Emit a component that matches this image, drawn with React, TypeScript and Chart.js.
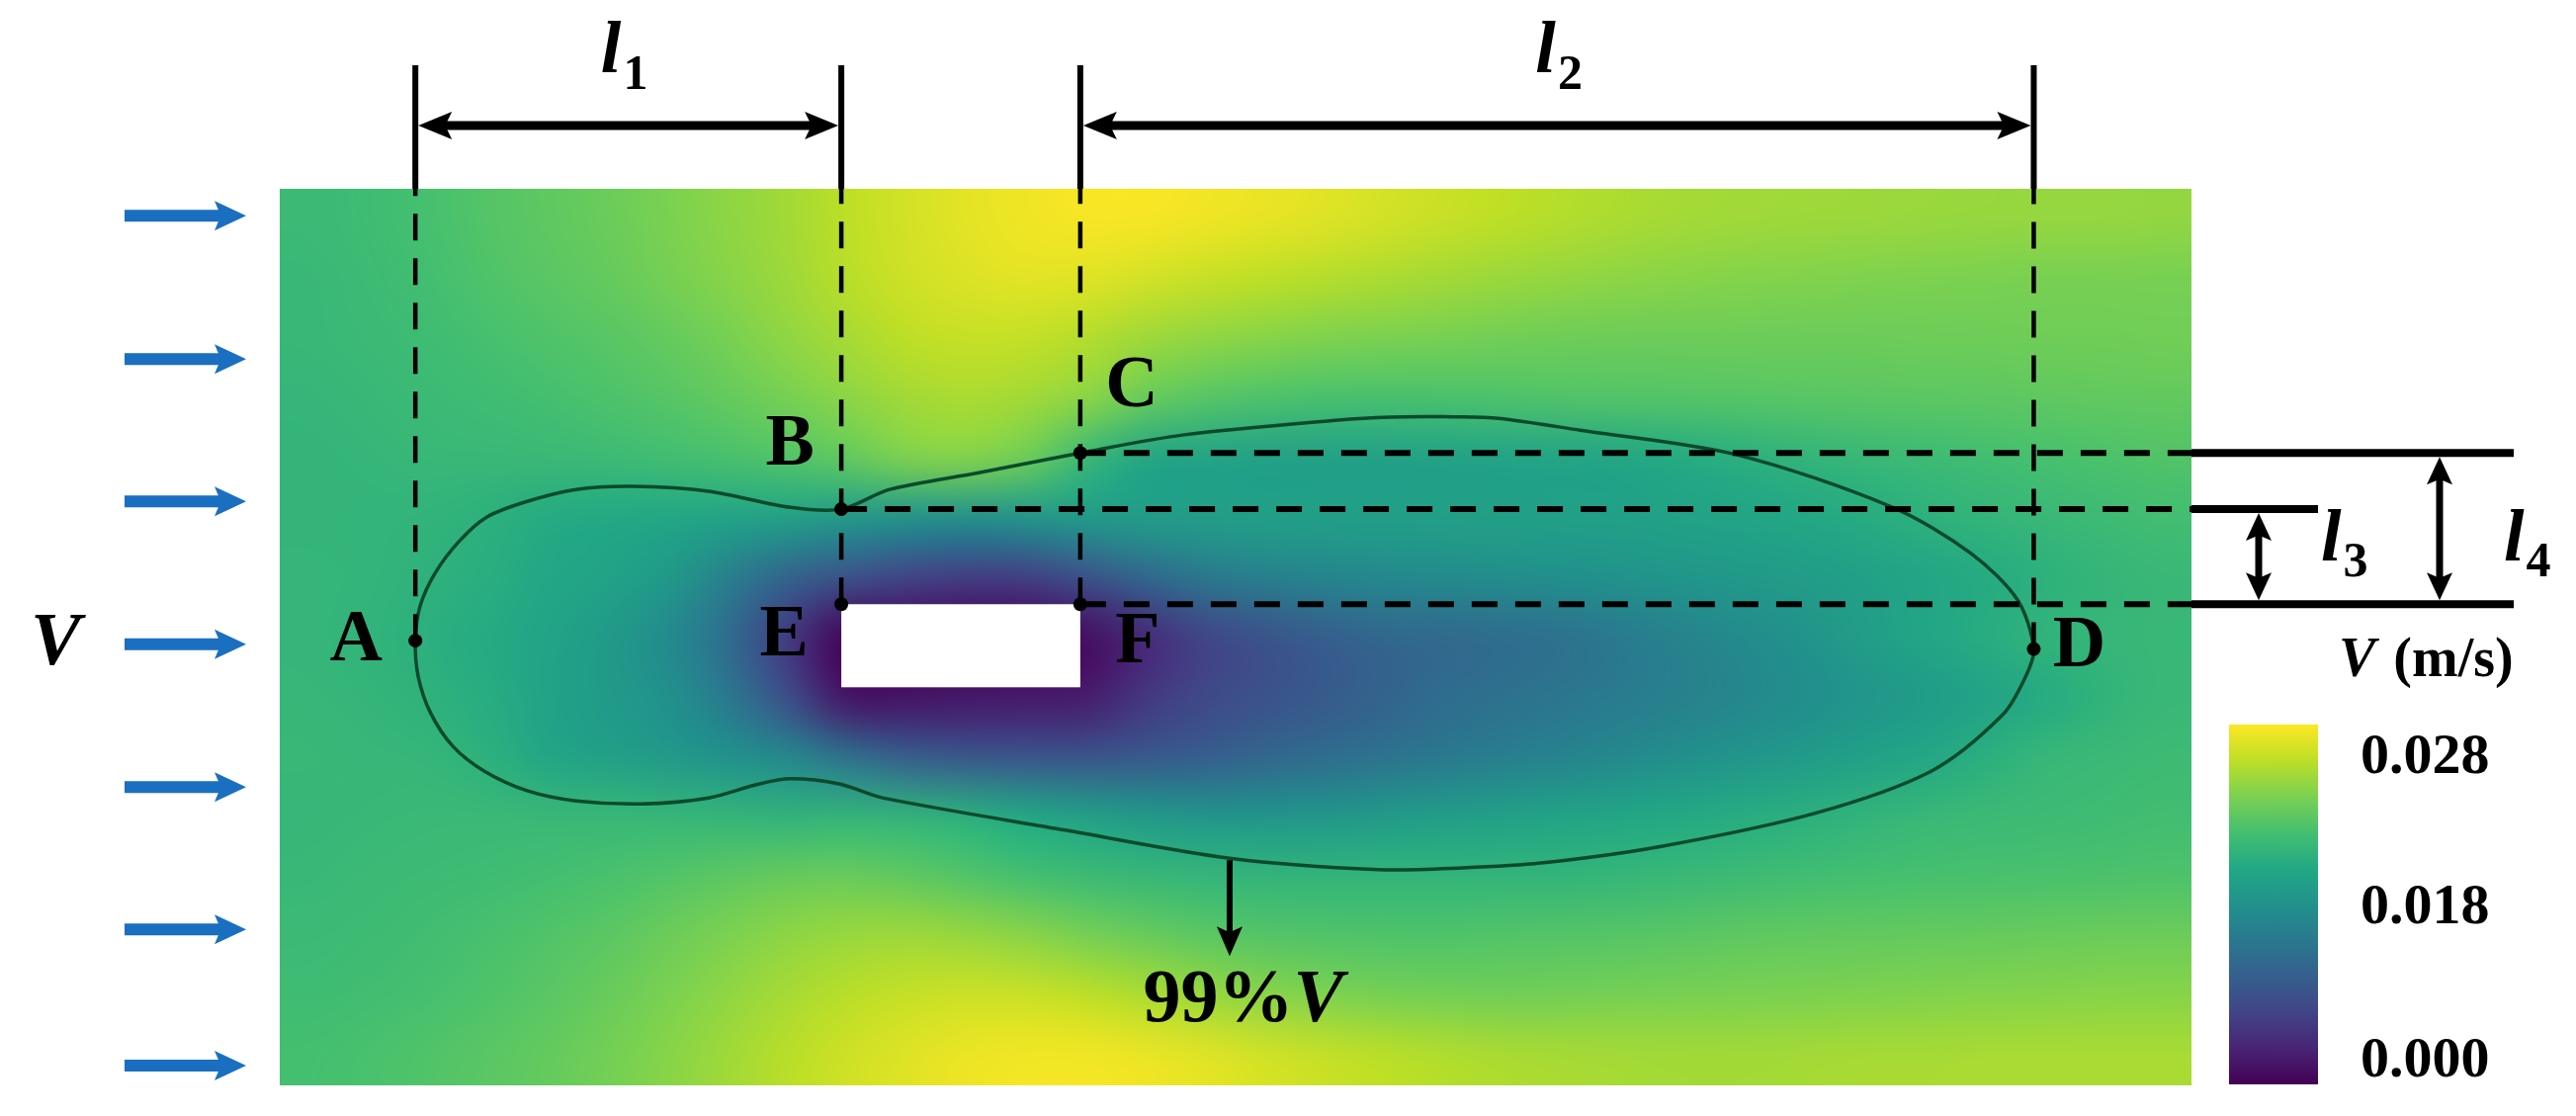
import React, { useEffect, useRef } from 'react';
import { Chart, registerables } from 'chart.js';

Chart.register(...registerables);

// ---------------- DATA ----------------
// Velocity field, mm/s, one row per grid row (top row first), 32 columns each
const vRow14 = [20.2, 20.6, 21.1, 21.9, 22.5, 23.1, 24.0, 24.9, 25.8, 27.0, 28.0, 28.8, 29.4, 29.7, 29.7, 29.4, 29.0, 28.6, 28.0, 27.5, 27.0, 26.6, 26.2, 25.9, 25.7, 25.6, 25.5, 25.4, 25.3, 25.2, 25.2, 25.1];
const vRow13 = [20.0, 20.4, 20.9, 21.6, 22.2, 22.8, 23.7, 24.6, 25.6, 26.8, 27.8, 28.4, 28.8, 28.6, 28.0, 27.4, 27.0, 26.6, 26.2, 25.8, 25.4, 25.1, 24.8, 24.6, 24.4, 24.3, 24.2, 24.1, 24.0, 23.9, 23.9, 23.8];
const vRow12 = [19.9, 20.2, 20.6, 21.1, 21.6, 22.1, 22.8, 23.8, 25.0, 26.0, 27.0, 27.4, 27.3, 26.6, 25.6, 25.0, 24.6, 24.2, 24.0, 23.8, 23.5, 23.3, 23.2, 23.2, 23.2, 23.2, 23.2, 23.3, 23.3, 23.4, 23.4, 23.5];
const vRow11 = [19.7, 19.9, 20.3, 20.6, 21.0, 21.5, 22.0, 22.8, 23.8, 24.8, 25.8, 26.2, 25.8, 24.8, 23.0, 22.0, 21.5, 21.2, 21.2, 21.3, 21.5, 21.7, 21.8, 21.9, 22.0, 22.1, 22.2, 22.3, 22.4, 22.5, 22.6, 22.7];
const vRow10 = [19.6, 19.7, 19.9, 20.0, 20.1, 20.3, 20.7, 21.2, 21.8, 22.6, 24.2, 24.4, 23.3, 20.0, 17.5, 17.2, 17.0, 17.0, 17.0, 17.1, 17.2, 17.4, 17.6, 18.2, 18.8, 19.4, 19.9, 20.3, 20.7, 21.1, 21.4, 21.7];
const vRow09 = [19.6, 19.5, 19.4, 19.0, 18.3, 18.0, 17.7, 17.4, 17.0, 16.0, 15.3, 15.0, 15.5, 16.3, 16.6, 16.7, 16.8, 16.8, 16.8, 16.8, 16.8, 16.9, 17.0, 17.2, 17.5, 17.9, 18.4, 19.0, 19.5, 20.0, 20.4, 20.8];
const vRow08 = [19.7, 19.5, 19.2, 18.7, 17.8, 17.2, 16.0, 12.8, 9.5, 7.5, 6.0, 5.3, 5.5, 7.5, 10.0, 12.0, 13.0, 13.6, 14.0, 14.3, 14.6, 14.9, 15.2, 15.6, 16.0, 16.5, 17.0, 17.6, 18.3, 19.0, 19.6, 20.0];
const vRow07 = [19.7, 19.4, 18.9, 18.2, 17.4, 16.2, 14.2, 10.5, 5.0, 0.0, 0.0, 0.0, 0.0, 1.0, 3.5, 6.0, 7.5, 8.8, 9.8, 10.2, 10.6, 11.2, 12.2, 13.3, 14.3, 15.3, 16.6, 17.6, 18.5, 19.4, 19.8, 19.9];
const vRow06 = [19.8, 19.6, 19.2, 18.5, 17.2, 16.2, 15.0, 12.0, 7.0, 1.5, 1.5, 1.8, 2.0, 2.2, 4.8, 6.5, 7.6, 8.4, 9.5, 10.5, 11.2, 11.8, 12.4, 13.1, 13.8, 14.6, 15.5, 16.3, 17.2, 18.3, 19.3, 20.0];
const vRow05 = [19.9, 19.8, 19.7, 19.0, 17.6, 16.8, 16.0, 15.0, 13.8, 11.0, 8.8, 8.0, 7.8, 7.7, 8.2, 8.8, 9.8, 10.5, 11.3, 12.0, 12.7, 13.3, 14.0, 14.8, 15.5, 16.2, 17.0, 17.8, 18.8, 19.8, 20.1, 20.4];
const vRow04 = [19.8, 19.9, 20.1, 20.1, 20.0, 19.9, 19.8, 19.6, 19.3, 19.5, 19.4, 18.9, 18.0, 17.0, 16.0, 15.5, 15.5, 15.7, 16.2, 16.6, 17.0, 17.4, 17.8, 18.1, 18.5, 18.9, 19.4, 19.9, 20.2, 20.4, 20.6, 20.8];
const vRow03 = [20.0, 20.2, 20.4, 20.6, 20.9, 21.3, 21.8, 22.4, 22.9, 23.0, 22.5, 21.8, 21.0, 20.4, 19.9, 19.7, 19.5, 19.5, 19.5, 19.5, 19.5, 19.6, 19.8, 20.1, 20.4, 20.7, 21.0, 21.1, 21.2, 21.3, 21.4, 21.5];
const vRow02 = [20.3, 20.5, 20.8, 21.2, 21.7, 22.3, 23.2, 24.1, 24.9, 25.4, 25.6, 25.3, 24.7, 23.8, 23.0, 22.3, 21.9, 21.7, 21.6, 21.6, 21.8, 21.9, 22.0, 22.2, 22.5, 22.6, 22.7, 22.8, 22.9, 23.0, 23.1, 23.2];
const vRow01 = [20.6, 20.8, 21.1, 21.6, 22.2, 23.0, 24.0, 25.0, 26.0, 26.8, 27.4, 27.7, 27.6, 27.1, 26.3, 25.4, 24.7, 24.2, 23.8, 23.6, 23.5, 23.6, 23.8, 23.9, 24.0, 24.1, 24.2, 24.3, 24.4, 24.5, 24.6, 24.6];
const vRow00 = [21.0, 21.3, 21.7, 22.2, 22.8, 23.6, 24.6, 25.7, 26.8, 27.8, 28.6, 29.2, 29.5, 29.5, 29.2, 28.7, 28.0, 27.4, 26.9, 26.5, 26.2, 26.0, 25.9, 25.8, 25.8, 25.9, 26.0, 26.0, 26.1, 26.1, 26.1, 26.1];

const fieldRows = [vRow14, vRow13, vRow12, vRow11, vRow10, vRow09, vRow08, vRow07, vRow06, vRow05, vRow04, vRow03, vRow02, vRow01, vRow00];

// colour scale (m/s) and colour-bar tick labels
const colorMin = 0.0;
const colorMax = 0.03;
const colorbarTicks = ['0.028', '0.018', '0.000'];
const colorbarTitle = ['V', ' (m/s)'];

// marked points
const pointLabels = ['A', 'B', 'C', 'D', 'E', 'F'];
const pointX = [2.27, 9.4, 13.4, 29.36, 9.4, 13.4];
const pointY = [7.44, 9.64, 10.58, 7.3, 8.05, 8.05];

// 99%V contour (closed loop)
const contourX = [19.5, 20.4, 21.77, 24.39, 27.0, 28.31, 29.09, 29.36, 29.22, 28.84, 27.65, 25.69, 23.08, 21.11, 19.8, 18.38, 15.9, 13.15, 10.09, 9.38, 8.55, 8.01, 7.18, 6.07, 4.96, 4.14, 3.42, 2.9, 2.53, 2.32, 2.27, 2.35, 2.6, 3.01, 3.47, 4.14, 4.96, 5.91, 7.18, 8.55, 9.4, 10.21, 11.7, 13.4, 15.11, 17.72, 18.6, 19.5];
const contourY = [11.19, 11.16, 10.96, 10.55, 9.67, 8.9, 8.12, 7.3, 6.83, 6.2, 5.26, 4.55, 3.99, 3.72, 3.64, 3.61, 3.8, 4.27, 4.81, 5.04, 5.13, 5.04, 4.81, 4.71, 4.76, 4.93, 5.26, 5.67, 6.22, 6.83, 7.44, 8.02, 8.57, 9.11, 9.51, 9.77, 9.97, 10.02, 9.94, 9.67, 9.64, 9.97, 10.25, 10.58, 10.88, 11.13, 11.18, 11.19];
const contourArrowIndex = 16; // contour point where the "99%V" arrow starts
const contourLabel = ['99%', 'V'];

// obstacle
const obstacleX = [9.4, 13.4];
const obstacleY = [6.66, 8.05];

// inflow arrows
const inflowY = [14.55, 12.15, 9.77, 7.38, 4.99, 2.61, 0.33];
const inflowLabel = 'V';

// dimensions
const dimensionSubs = ['1', '2', '3', '4'];

// ---------------- HELPERS ----------------
const NX = fieldRows[0].length;
const NY = fieldRows.length;

const VIRIDIS = ['#440154', '#482475', '#414487', '#355f8d', '#2a788e', '#21918c', '#22a884', '#44bf70', '#7ad151', '#bddf26', '#fde725'].map((h) => [
  parseInt(h.slice(1, 3), 16),
  parseInt(h.slice(3, 5), 16),
  parseInt(h.slice(5, 7), 16),
]);

function viridis(t: number) {
  const tt = Math.max(0, Math.min(1, t));
  const s = tt * (VIRIDIS.length - 1);
  const i = Math.min(VIRIDIS.length - 2, Math.floor(s));
  const f = s - i;
  const a = VIRIDIS[i];
  const b = VIRIDIS[i + 1];
  return [a[0] + (b[0] - a[0]) * f, a[1] + (b[1] - a[1]) * f, a[2] + (b[2] - a[2]) * f];
}

const SERIF = '"Liberation Serif", "Times New Roman", serif';

function line(ctx: any, x1: number, y1: number, x2: number, y2: number, w: number) {
  ctx.lineWidth = w;
  ctx.beginPath();
  ctx.moveTo(x1, y1);
  ctx.lineTo(x2, y2);
  ctx.stroke();
}

function head(ctx: any, tx: number, ty: number, dx: number, dy: number, len: number, half: number) {
  const bx = tx - dx * len;
  const by = ty - dy * len;
  const nx = -dy;
  const ny = dx;
  ctx.beginPath();
  ctx.moveTo(tx, ty);
  ctx.lineTo(bx + nx * half, by + ny * half);
  ctx.lineTo(tx - dx * len * 0.8, ty - dy * len * 0.8);
  ctx.lineTo(bx - nx * half, by - ny * half);
  ctx.closePath();
  ctx.fill();
}

function arrow(ctx: any, x1: number, y1: number, x2: number, y2: number, w: number, len: number, half: number, both: boolean) {
  const L = Math.hypot(x2 - x1, y2 - y1);
  const dx = (x2 - x1) / L;
  const dy = (y2 - y1) / L;
  const sx = both ? x1 + dx * len * 0.7 : x1;
  const sy = both ? y1 + dy * len * 0.7 : y1;
  line(ctx, sx, sy, x2 - dx * len * 0.7, y2 - dy * len * 0.7, w);
  head(ctx, x2, y2, dx, dy, len, half);
  if (both) head(ctx, x1, y1, -dx, -dy, len, half);
}

function runs(ctx: any, parts: any[], x: number, y: number, align: string) {
  const widths = parts.map((p) => {
    ctx.font = p.font;
    return ctx.measureText(p.text).width + (p.dx || 0);
  });
  const total = widths.reduce((a, b) => a + b, 0);
  let cx = align === 'center' ? x - total / 2 : x;
  ctx.textAlign = 'left';
  ctx.textBaseline = 'alphabetic';
  parts.forEach((p, i) => {
    ctx.font = p.font;
    ctx.fillText(p.text, cx, y + (p.dy || 0));
    cx += widths[i];
  });
}

// ---------------- PLUGINS ----------------
const heatmapPlugin = {
  id: 'heatmap',
  beforeDatasetsDraw(chart: any) {
    const { ctx, scales } = chart;
    const xs = scales.x;
    const ys = scales.y;
    const W = NX + 2;
    const H = NY + 2;
    const off = document.createElement('canvas');
    off.width = W;
    off.height = H;
    const octx = off.getContext('2d') as CanvasRenderingContext2D;
    const img = octx.createImageData(W, H);
    for (let r = 0; r < H; r++) {
      const rr = Math.min(NY - 1, Math.max(0, r - 1));
      for (let c = 0; c < W; c++) {
        const cc = Math.min(NX - 1, Math.max(0, c - 1));
        const v = fieldRows[rr][cc] / 1000;
        const col = viridis((v - colorMin) / (colorMax - colorMin));
        const k = (r * W + c) * 4;
        img.data[k] = col[0];
        img.data[k + 1] = col[1];
        img.data[k + 2] = col[2];
        img.data[k + 3] = 255;
      }
    }
    octx.putImageData(img, 0, 0);
    const left = xs.getPixelForValue(0);
    const right = xs.getPixelForValue(NX);
    const top = ys.getPixelForValue(NY);
    const bottom = ys.getPixelForValue(0);
    ctx.save();
    ctx.beginPath();
    ctx.rect(left, top, right - left, bottom - top);
    ctx.clip();
    ctx.imageSmoothingEnabled = true;
    ctx.imageSmoothingQuality = 'high';
    ctx.drawImage(off, 1, 1, NX, NY, left, top, right - left, bottom - top);
    // obstacle
    const ox1 = xs.getPixelForValue(obstacleX[0]);
    const ox2 = xs.getPixelForValue(obstacleX[1]);
    const oy1 = ys.getPixelForValue(obstacleY[1]);
    const oy2 = ys.getPixelForValue(obstacleY[0]);
    ctx.fillStyle = '#ffffff';
    ctx.fillRect(ox1, oy1, ox2 - ox1, oy2 - oy1);
    ctx.restore();
  },
};

const annotationPlugin = {
  id: 'annotations',
  afterDraw(chart: any) {
    const { ctx, chartArea: ca, scales } = chart;
    const px = (v: number) => scales.x.getPixelForValue(v);
    const py = (v: number) => scales.y.getPixelForValue(v);
    const A = 0, B = 1, C = 2, D = 3, F = 5;
    ctx.save();
    ctx.strokeStyle = '#000';
    ctx.fillStyle = '#000';
    ctx.lineCap = 'butt';

    // vertical solid extension lines above the field
    const dimTop = ca.top - 125;
    [A, B, C, D].forEach((i) => line(ctx, px(pointX[i]), ca.top, px(pointX[i]), dimTop, 6));

    // horizontal dimension arrows l1, l2
    const arrowY = ca.top - 64;
    arrow(ctx, px(pointX[A]) + 3, arrowY, px(pointX[B]) - 3, arrowY, 9, 34, 14, true);
    arrow(ctx, px(pointX[C]) + 3, arrowY, px(pointX[D]) - 3, arrowY, 9, 34, 14, true);

    const lFont = `italic bold 74px ${SERIF}`;
    const sFont = `bold 50px ${SERIF}`;
    const lBase = ca.top - 118;
    runs(ctx, [{ text: 'l', font: lFont, dx: 2 }, { text: dimensionSubs[0], font: sFont, dy: 17 }], (px(pointX[A]) + px(pointX[B])) / 2 - 4, lBase, 'center');
    runs(ctx, [{ text: 'l', font: lFont, dx: 2 }, { text: dimensionSubs[1], font: sFont, dy: 17 }], (px(pointX[C]) + px(pointX[D])) / 2 + 2, lBase, 'center');

    // horizontal solid extension lines to the right
    line(ctx, ca.right, py(pointY[C]), ca.right + 326, py(pointY[C]), 8);
    line(ctx, ca.right, py(pointY[B]), ca.right + 128, py(pointY[B]), 8);
    line(ctx, ca.right, py(pointY[F]), ca.right + 326, py(pointY[F]), 8);

    // vertical dimension arrows l3, l4
    arrow(ctx, ca.right + 68, py(pointY[B]) + 4, ca.right + 68, py(pointY[F]) - 4, 7, 28, 13, true);
    arrow(ctx, ca.right + 251, py(pointY[C]) + 4, ca.right + 251, py(pointY[F]) - 4, 7, 28, 13, true);
    const l34Base = py(pointY[F]) - 44;
    runs(ctx, [{ text: 'l', font: lFont, dx: 2 }, { text: dimensionSubs[2], font: sFont, dy: 16 }], ca.right + 131, l34Base, 'left');
    runs(ctx, [{ text: 'l', font: lFont, dx: 2 }, { text: dimensionSubs[3], font: sFont, dy: 16 }], ca.right + 316, l34Base, 'left');

    // colour bar
    const cbL = ca.right + 38;
    const cbR = ca.right + 128;
    const cbT = ca.top + 542;
    const cbB = ca.bottom - 1;
    const grad = ctx.createLinearGradient(0, cbB, 0, cbT);
    VIRIDIS.forEach((c, i) => grad.addColorStop(i / (VIRIDIS.length - 1), `rgb(${c[0]},${c[1]},${c[2]})`));
    ctx.fillStyle = grad;
    ctx.fillRect(cbL, cbT, cbR - cbL, cbB - cbT);
    ctx.fillStyle = '#000';
    const tickBases = [ca.top + 591, ca.top + 743, ca.top + 898];
    colorbarTicks.forEach((t, i) => runs(ctx, [{ text: t, font: `bold 58px ${SERIF}` }], ca.right + 171, tickBases[i], 'left'));
    runs(ctx, [
      { text: colorbarTitle[0], font: `italic bold 56px ${SERIF}`, dx: 4 },
      { text: colorbarTitle[1], font: `bold 56px ${SERIF}` },
    ], ca.right + 149, ca.top + 493, 'left');

    // inflow arrows
    ctx.fillStyle = '#1b6fc0';
    ctx.strokeStyle = '#1b6fc0';
    inflowY.forEach((v) => arrow(ctx, ca.left - 157, py(v), ca.left - 34, py(v), 12, 32, 15, false));
    ctx.fillStyle = '#000';
    ctx.strokeStyle = '#000';
    runs(ctx, [{ text: inflowLabel, font: `italic bold 76px ${SERIF}` }], ca.left - 252, py(inflowY[3]) + 20, 'left');

    // 99%V arrow
    const ax = px(contourX[contourArrowIndex]);
    const ay = py(contourY[contourArrowIndex]);
    arrow(ctx, ax, ay + 2, ax, ay + 99, 6, 30, 13, false);
    runs(ctx, [
      { text: contourLabel[0], font: `bold 76px ${SERIF}` },
      { text: contourLabel[1], font: `italic bold 76px ${SERIF}` },
    ], ax + 14, ay + 165, 'center');

    // point labels
    const offs = [[-60, 20], [-52, -45], [52, -47], [46, 17], [-58, 52], [58, 59]];
    pointLabels.forEach((t, i) => {
      ctx.font = `bold 74px ${SERIF}`;
      ctx.textAlign = 'center';
      ctx.textBaseline = 'alphabetic';
      ctx.fillText(t, px(pointX[i]) + offs[i][0], py(pointY[i]) + offs[i][1]);
    });
    ctx.restore();
  },
};

// ---------------- COMPONENT ----------------
export default function App() {
  const ref = useRef<HTMLCanvasElement>(null);

  useEffect(() => {
    if (!ref.current) return;
    const A = 0, B = 1, C = 2, D = 3, E = 4, F = 5;
    const vGuide = (i: number) => ({
      data: [{ x: pointX[i], y: pointY[i] }, { x: pointX[i], y: NY }],
      showLine: true,
      borderColor: '#000',
      borderWidth: 4.5,
      borderDash: [27, 18],
      pointRadius: 0,
      order: 1,
    });
    const hGuide = (i: number) => ({
      data: [{ x: pointX[i], y: pointY[i] }, { x: NX, y: pointY[i] }],
      showLine: true,
      borderColor: '#000',
      borderWidth: 6,
      borderDash: [26, 18],
      pointRadius: 0,
      order: 1,
    });
    const chart = new Chart(ref.current, {
      type: 'scatter',
      data: {
        datasets: [
          {
            label: 'points',
            data: pointX.map((x, i) => ({ x, y: pointY[i] })),
            backgroundColor: '#000',
            borderWidth: 0,
            pointRadius: 7,
            showLine: false,
            order: 0,
          } as any,
          vGuide(A),
          vGuide(E),
          vGuide(F),
          vGuide(D),
          hGuide(C),
          hGuide(B),
          hGuide(F),
          {
            label: '99%V',
            data: contourX.map((x, i) => ({ x, y: contourY[i] })),
            showLine: true,
            borderColor: '#0b4a2b',
            borderWidth: 3.5,
            tension: 0.3,
            pointRadius: 0,
            order: 2,
          } as any,
        ],
      },
      options: {
        animation: false,
        responsive: false,
        events: [],
        layout: { padding: { left: 283, top: 191, right: 389, bottom: 31 }, autoPadding: false } as any,
        scales: {
          x: { type: 'linear', min: 0, max: NX, display: false },
          y: { type: 'linear', min: 0, max: NY, display: false },
        },
        plugins: { legend: { display: false }, tooltip: { enabled: false } },
      },
      plugins: [heatmapPlugin, annotationPlugin],
    } as any);
    return () => chart.destroy();
  }, []);

  return (
    <div style={{ position: 'fixed', left: 0, top: 0, width: 2606, height: 1129, background: '#ffffff' }}>
      <canvas ref={ref} width={2606} height={1129} style={{ display: 'block', width: 2606, height: 1129 }} />
    </div>
  );
}
